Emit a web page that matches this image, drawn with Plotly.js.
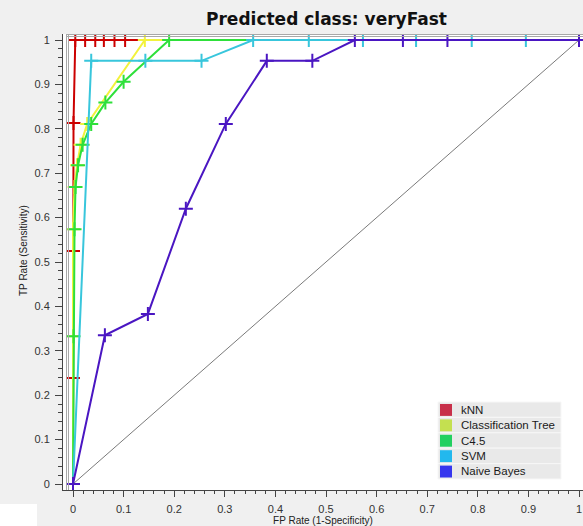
<!DOCTYPE html>
<html>
<head>
<meta charset="utf-8">
<script src="https://cdn.plot.ly/plotly-3.0.1.min.js"></script>
<style>
  html, body { margin: 0; padding: 0; background: #f0f0f0; }
  #chart { width: 583px; height: 526px; }
</style>
</head>
<body>
<div id="chart"></div>
<script>
// ---- data ----
const seriesNames = ["kNN", "Classification Tree", "C4.5", "SVM", "Naive Bayes"];
const lineColors = ["#cc0000", "#f2f23c", "#2ee03a", "#38c6dc", "#4a16c2"];
const legendColors = ["#c8304a", "#c4e050", "#22d060", "#22b8ee", "#3535ee"];

const knnFPR  = [0, 0, 0, 0.001, 0.0045, 0.024, 0.044, 0.061, 0.082, 0.103, 1];
const knnTPR  = [0, 0.239, 0.525, 0.813, 1, 1, 1, 1, 1, 1, 1];
const treeFPR = [0, 0, 0, 0.003, 0.008, 0.015, 0.028, 0.142, 1];
const treeTPR = [0, 0.333, 0.574, 0.669, 0.718, 0.764, 0.811, 1, 1];
const c45FPR  = [0, 0.001, 0.003, 0.005, 0.010, 0.019, 0.036, 0.064, 0.100, 0.190, 1];
const c45TPR  = [0, 0.333, 0.574, 0.669, 0.718, 0.764, 0.811, 0.859, 0.906, 1, 1];
const svmFPR  = [0, 0.036, 0.143, 0.254, 0.356, 0.466, 0.573, 0.678, 0.788, 0.895, 1];
const svmTPR  = [0, 0.953, 0.953, 0.953, 1, 1, 1, 1, 1, 1, 1];
const nbFPR   = [0, 0.063, 0.148, 0.223, 0.302, 0.383, 0.473, 0.557, 0.652, 0.740, 1];
const nbTPR   = [0, 0.335, 0.383, 0.620, 0.811, 0.953, 0.953, 1, 1, 1, 1];
const diagFPR = [0, 1];
const diagTPR = [0, 1];

const tickVals = [0, 0.1, 0.2, 0.3, 0.4, 0.5, 0.6, 0.7, 0.8, 0.9, 1];
const tickText = ["0", "0.1", "0.2", "0.3", "0.4", "0.5", "0.6", "0.7", "0.8", "0.9", "1"];

const titleText = "Predicted class: veryFast";
const xTitle = "FP Rate (1-Specificity)";
const yTitle = "TP Rate (Sensitivity)";

// ---- layout geometry ----
const W = 583, H = 526;
const M = { l: 63, r: 0, t: 34, b: 36 };
const PW = W - M.l - M.r, PH = H - M.t - M.b;
const px2x = p => (p - M.l) / PW;          // page px -> paper x
const py2y = p => (H - M.b - p) / PH;      // page px -> paper y

const xs = [knnFPR, treeFPR, c45FPR, svmFPR, nbFPR];
const ys = [knnTPR, treeTPR, c45TPR, svmTPR, nbTPR];

const traces = [{
  x: diagFPR, y: diagTPR, mode: "lines", showlegend: false,
  line: { color: "#7a7a7a", width: 1 }, hoverinfo: "skip"
}];
seriesNames.forEach((n, i) => {
  traces.push({
    x: xs[i], y: ys[i], name: n, mode: "lines+markers", showlegend: false,
    line: { color: lineColors[i], width: 2 },
    marker: { symbol: "cross-thin", size: 10, line: { color: lineColors[i], width: 2 } }
  });
});

// legend drawn as boxes + text from the series arrays
const shapes = [];
const annotations = [];
const legL = 438, legR = 561, legT = 402, rowH = 15.4;
seriesNames.forEach((n, i) => {
  const top = legT + i * rowH;
  shapes.push({ type: "rect", xref: "paper", yref: "paper",
    x0: px2x(legL), x1: px2x(legR), y0: py2y(top), y1: py2y(top + rowH),
    fillcolor: "#e9e9e9", line: { color: "#f7f7f7", width: 1 }, layer: "above" });
  shapes.push({ type: "rect", xref: "paper", yref: "paper",
    x0: px2x(440), x1: px2x(452), y0: py2y(top + 2), y1: py2y(top + rowH - 1.5),
    fillcolor: legendColors[i], line: { width: 0 }, layer: "above" });
  annotations.push({ xref: "paper", yref: "paper", x: px2x(459), y: py2y(top + rowH / 2),
    xanchor: "left", yanchor: "middle", showarrow: false, text: n,
    font: { family: "Liberation Sans, Arial, sans-serif", size: 11.5, color: "#1a1a1a" } });
});

// plot frame (double grey lines at left and top)
[66.5, 68.5].forEach(p => shapes.push({ type: "line", xref: "paper", yref: "paper",
  x0: px2x(p), x1: px2x(p), y0: 0, y1: py2y(34), line: { color: "#a8a8a8", width: 1 }, layer: "above" }));
[34.5, 36.5].forEach(p => shapes.push({ type: "line", xref: "paper", yref: "paper",
  x0: px2x(66), x1: 1, y0: py2y(p), y1: py2y(p), line: { color: "#a8a8a8", width: 1 }, layer: "above" }));
// white corner outside the panel
shapes.push({ type: "rect", xref: "paper", yref: "paper",
  x0: px2x(0), x1: px2x(37), y0: py2y(504), y1: py2y(526),
  fillcolor: "#ffffff", line: { width: 0 }, layer: "below" });

// y axis title
annotations.push({ xref: "paper", yref: "paper", x: px2x(23), y: py2y(251),
  xanchor: "center", yanchor: "middle", showarrow: false, textangle: -90, text: yTitle,
  font: { family: "Liberation Sans, Arial, sans-serif", size: 10, color: "#222" } });

const axisFont = { family: "Liberation Sans, Arial, sans-serif", size: 11, color: "#333" };

const layout = {
  width: W, height: H,
  margin: M,
  paper_bgcolor: "#f0f0f0",
  plot_bgcolor: "#ffffff",
  showlegend: false,
  hovermode: false,
  title: {
    text: titleText, xref: "container", yref: "container",
    x: 326.5 / W, xanchor: "center", y: 1 - 19 / H, yanchor: "middle",
    font: { family: "DejaVu Sans, sans-serif", size: 17, weight: "bold", color: "#111" }
  },
  xaxis: {
    range: [(M.l - 73) / 506, (W - 73) / 506],
    tickvals: tickVals, ticktext: tickText,
    ticks: "outside", ticklen: 6, tickwidth: 1, tickcolor: "#444",
    minor: { dtick: 0.02, tick0: 0, ticks: "outside", ticklen: 3, tickcolor: "#444", showgrid: false },
    showgrid: false, zeroline: false, showline: true, linecolor: "#444", linewidth: 1,
    tickfont: axisFont, ticklabelstandoff: 3,
    title: { text: xTitle, standoff: 3, font: { family: "Liberation Sans, Arial, sans-serif", size: 10, color: "#222" } },
    automargin: false, fixedrange: true
  },
  yaxis: {
    range: [(484 - (H - M.b)) / 444, (484 - M.t) / 444],
    tickvals: tickVals, ticktext: tickText,
    ticks: "outside", ticklen: 7, tickwidth: 1, tickcolor: "#444",
    minor: { dtick: 0.02, tick0: 0, ticks: "outside", ticklen: 4, tickcolor: "#444", showgrid: false },
    showgrid: false, zeroline: false, showline: true, linecolor: "#444", linewidth: 1,
    tickfont: axisFont, ticklabelstandoff: 3,
    automargin: false, fixedrange: true
  },
  shapes: shapes,
  annotations: annotations
};

Plotly.newPlot("chart", traces, layout, { staticPlot: true, displayModeBar: false });
</script>
</body>
</html>
